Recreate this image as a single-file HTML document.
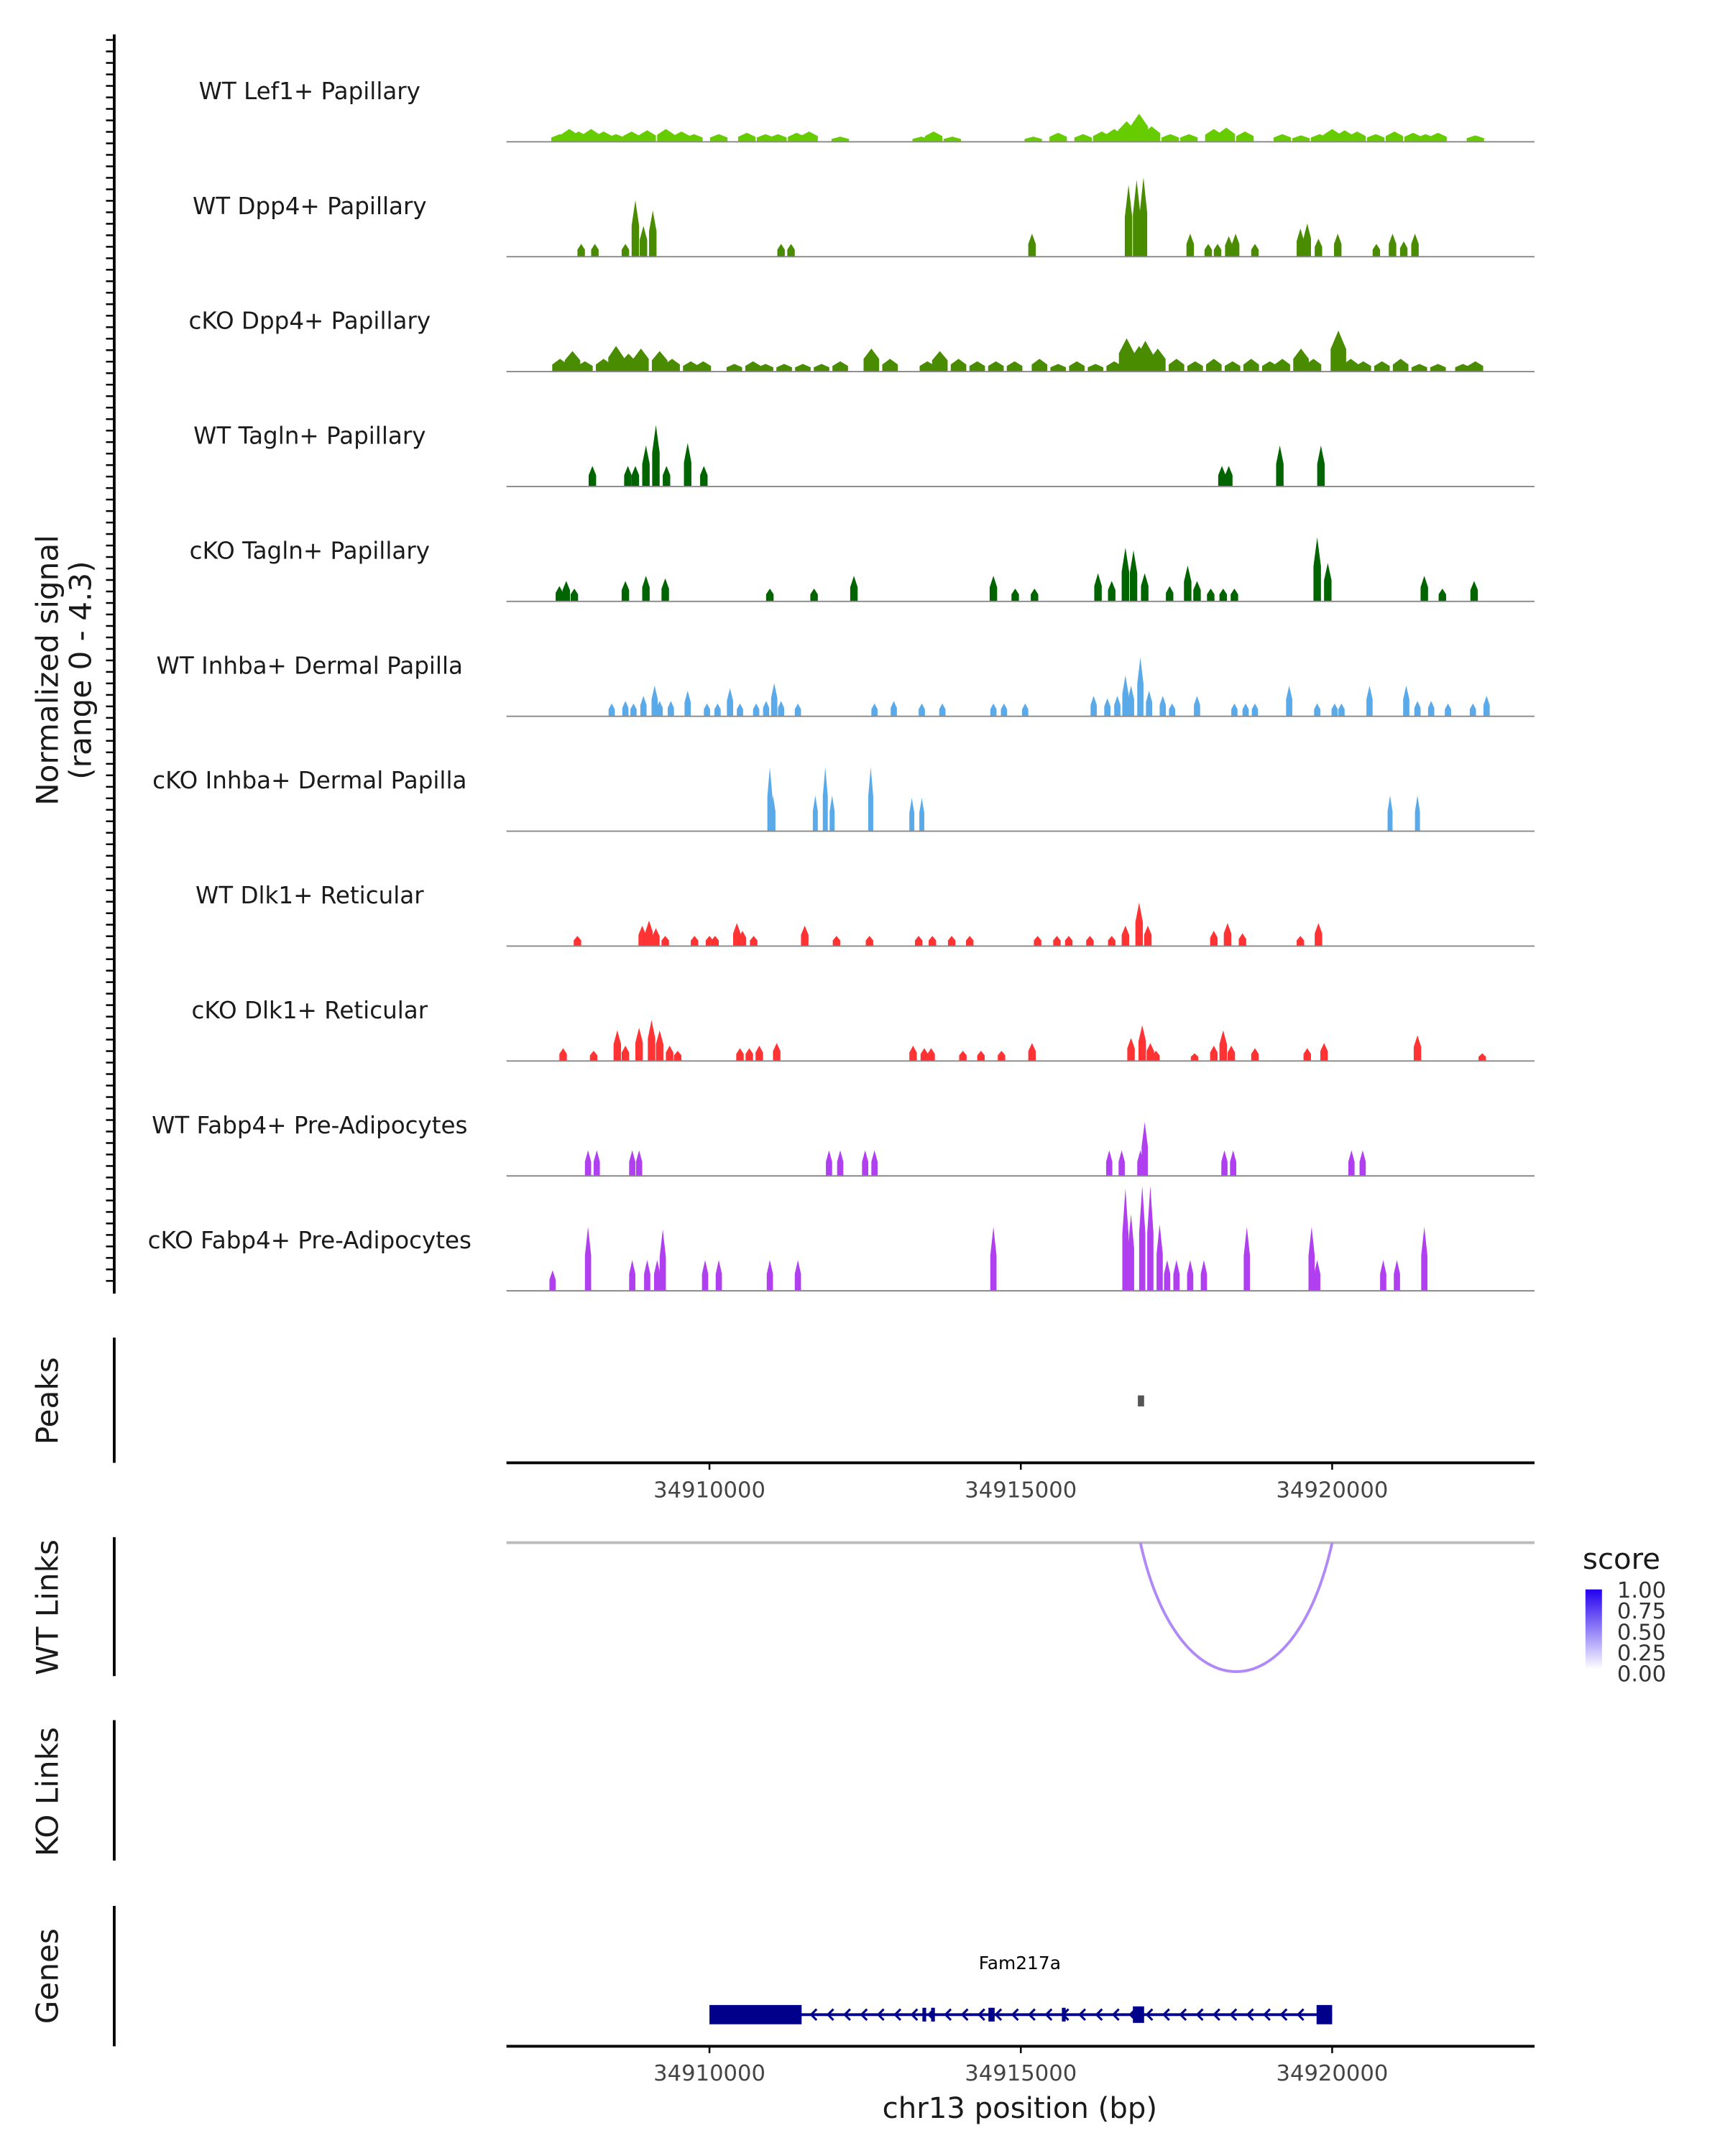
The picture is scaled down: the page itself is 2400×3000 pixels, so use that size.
<!DOCTYPE html>
<html><head><meta charset="utf-8"><style>
html,body{margin:0;padding:0;background:#fff}
svg{display:block}
text{font-family:"DejaVu Sans","Liberation Sans",sans-serif}
</style></head><body>
<svg id="chart" width="2400" height="3000" viewBox="0 0 1253.4 1566.7" xmlns="http://www.w3.org/2000/svg">
<defs>
<linearGradient id="scoreGrad" x1="0" y1="1" x2="0" y2="0">
<stop offset="0" stop-color="#ffffff"/><stop offset="1" stop-color="#2200ee"/>
</linearGradient>
</defs>
<g id="tracks"></g>
<g id="axes"></g>
</svg>
<script>
// ---- data (positions in kb relative to chr13:34,900,000) ----
const trackNames = ["WT Lef1+ Papillary","WT Dpp4+ Papillary","cKO Dpp4+ Papillary","WT Tagln+ Papillary","cKO Tagln+ Papillary","WT Inhba+ Dermal Papilla","cKO Inhba+ Dermal Papilla","WT Dlk1+ Reticular","cKO Dlk1+ Reticular","WT Fabp4+ Pre-Adipocytes","cKO Fabp4+ Pre-Adipocytes"];
const trackColors = ["#66cc00","#4a8c00","#4a8c00","#006400","#006400","#5aaaea","#5aaaea","#ff3333","#ff3333","#b03ff0","#b03ff0"];
const peakWidths = [0.28,0.12,0.25,0.12,0.12,0.1,0.08,0.12,0.12,0.1,0.1];
const t0Pos=[7.6,7.75,7.9,8.1,8.3,8.5,8.75,9.0,9.3,9.55,9.75,10.15,10.6,10.9,11.1,11.4,11.6,12.1,13.4,13.6,13.9,15.2,15.6,16.0,16.3,16.5,16.7,16.9,17.1,17.4,17.7,18.1,18.3,18.6,19.2,19.5,19.8,20.0,20.2,20.4,20.7,21.0,21.3,21.5,21.7,22.3];
const t0Val=[0.3,0.5,0.4,0.5,0.4,0.3,0.4,0.45,0.5,0.4,0.3,0.3,0.35,0.3,0.3,0.35,0.4,0.2,0.2,0.4,0.2,0.2,0.35,0.3,0.4,0.5,0.8,1.1,0.6,0.3,0.3,0.5,0.55,0.4,0.3,0.25,0.3,0.5,0.45,0.4,0.3,0.4,0.35,0.3,0.35,0.25];
const t1Pos=[7.94,8.16,8.65,8.81,8.94,9.09,11.15,11.31,15.18,16.73,16.86,16.97,17.72,18.01,18.16,18.34,18.45,18.76,19.49,19.6,19.78,20.09,20.71,20.97,21.15,21.33];
const t1Val=[0.5,0.5,0.5,2.2,1.2,1.8,0.5,0.5,0.9,2.8,3.0,3.1,0.9,0.5,0.5,0.8,0.9,0.5,1.1,1.3,0.7,0.9,0.5,0.9,0.6,0.9];
const t2Pos=[7.6,7.8,8.0,8.3,8.5,8.7,8.9,9.2,9.4,9.7,9.9,10.4,10.7,10.9,11.2,11.5,11.8,12.1,12.6,12.9,13.5,13.7,14.0,14.3,14.6,14.9,15.3,15.6,15.9,16.2,16.5,16.7,16.9,17.0,17.2,17.5,17.8,18.1,18.4,18.7,19.0,19.2,19.5,19.7,20.1,20.3,20.5,20.8,21.1,21.4,21.7,22.1,22.3];
const t2Val=[0.5,0.8,0.4,0.5,1.0,0.7,0.9,0.8,0.5,0.4,0.4,0.3,0.4,0.3,0.3,0.3,0.3,0.4,0.9,0.5,0.4,0.8,0.5,0.4,0.4,0.4,0.5,0.3,0.4,0.3,0.4,1.3,1.0,1.2,0.9,0.5,0.4,0.5,0.4,0.5,0.4,0.5,0.9,0.5,1.6,0.5,0.4,0.4,0.5,0.3,0.3,0.3,0.4];
const t3Pos=[8.12,8.69,8.81,8.98,9.14,9.31,9.65,9.91,18.23,18.34,19.16,19.82];
const t3Val=[0.8,0.8,0.8,1.6,2.4,0.8,1.7,0.8,0.8,0.8,1.6,1.6];
const t4Pos=[7.59,7.7,7.83,8.65,8.98,9.29,10.97,11.68,12.32,14.56,14.91,15.22,16.24,16.46,16.68,16.81,16.99,17.39,17.68,17.83,18.05,18.25,18.43,19.76,19.93,21.48,21.77,22.28];
const t4Val=[0.6,0.8,0.5,0.8,1.0,0.9,0.5,0.5,1.0,1.0,0.5,0.5,1.1,0.8,2.1,2.0,1.1,0.6,1.4,0.8,0.5,0.5,0.5,2.5,1.5,1.0,0.5,0.8];
const t5Pos=[8.43,8.65,8.78,8.94,9.12,9.2,9.38,9.65,9.96,10.13,10.33,10.49,10.75,10.91,11.04,11.15,11.42,12.65,12.96,13.41,13.74,14.56,14.73,15.07,16.17,16.39,16.55,16.68,16.77,16.92,17.06,17.28,17.43,17.83,18.43,18.61,18.76,19.31,19.76,20.04,20.15,20.6,21.19,21.37,21.59,21.86,22.26,22.48];
const t5Val=[0.5,0.6,0.5,0.8,1.2,0.6,0.6,1.0,0.5,0.5,1.1,0.5,0.5,0.6,1.3,0.6,0.5,0.5,0.6,0.5,0.5,0.5,0.5,0.5,0.8,0.7,0.8,1.6,1.2,2.3,1.0,0.8,0.5,0.8,0.5,0.5,0.5,1.2,0.5,0.5,0.5,1.2,1.2,0.6,0.6,0.5,0.5,0.8];
const t6Pos=[10.97,11.02,11.7,11.86,11.97,12.59,13.25,13.41,20.93,21.37];
const t6Val=[2.5,1.4,1.4,2.5,1.4,2.5,1.3,1.3,1.4,1.4];
const t7Pos=[7.88,8.92,9.03,9.14,9.29,9.76,10.0,10.09,10.44,10.53,10.71,11.53,12.04,12.57,13.36,13.58,13.89,14.18,15.27,15.58,15.77,16.11,16.46,16.68,16.9,17.04,18.1,18.32,18.56,19.49,19.78];
const t7Val=[0.4,0.8,1.0,0.7,0.4,0.4,0.4,0.4,0.9,0.6,0.4,0.8,0.4,0.4,0.4,0.4,0.4,0.4,0.4,0.4,0.4,0.4,0.4,0.8,1.7,0.8,0.6,0.9,0.5,0.4,0.9];
const t8Pos=[7.65,8.14,8.52,8.65,8.87,9.07,9.2,9.36,9.49,10.49,10.64,10.8,11.08,13.27,13.45,13.56,14.07,14.36,14.69,15.18,16.77,16.95,17.08,17.17,17.79,18.1,18.25,18.38,18.76,19.6,19.87,21.37,22.41];
const t8Val=[0.5,0.4,1.2,0.6,1.3,1.6,1.2,0.6,0.4,0.5,0.5,0.6,0.7,0.6,0.5,0.5,0.4,0.4,0.4,0.7,0.9,1.4,0.7,0.4,0.3,0.6,1.2,0.6,0.5,0.5,0.7,1.0,0.3];
const t9Pos=[8.05,8.19,8.76,8.87,11.92,12.1,12.5,12.65,16.42,16.62,16.92,16.99,18.27,18.41,20.31,20.49];
const t9Val=[1.0,1.0,1.0,1.0,1.0,1.0,1.0,1.0,1.0,1.0,1.0,2.1,1.0,1.0,1.0,1.0];
const t10Pos=[7.48,8.05,8.76,9.0,9.16,9.25,9.93,10.15,10.97,11.42,14.56,16.68,16.77,16.95,17.08,17.23,17.35,17.5,17.72,17.94,18.63,19.67,19.76,20.82,21.04,21.48];
const t10Val=[0.8,2.5,1.2,1.2,1.2,2.4,1.2,1.2,1.2,1.2,2.5,4.0,3.0,4.1,4.1,2.6,1.2,1.2,1.2,1.2,2.5,2.5,1.2,1.2,1.2,2.5];
const trackPos=[t0Pos,t1Pos,t2Pos,t3Pos,t4Pos,t5Pos,t6Pos,t7Pos,t8Pos,t9Pos,t10Pos];
const trackVal=[t0Val,t1Val,t2Val,t3Val,t4Val,t5Val,t6Val,t7Val,t8Val,t9Val,t10Val];
const xTicks=[10,15,20];
const xTickLabels=["34910000","34915000","34920000"];
const peakRegions=[[16.88,16.98]];
const linkStart=[16.92];
const linkEnd=[20.0];
const linkScore=[0.45];
const legendLabels=["1.00","0.75","0.50","0.25","0.00"];
const exonStart=[10.0,13.42,13.56,14.48,15.66,16.8,19.75];
const exonEnd=[11.48,13.48,13.62,14.58,15.72,16.98,20.0];
const exonH=[14,10,10,10,10,12,14];
const geneStart=10.0, geneEnd=20.0;
const yMax=4.3;

// ---- scales ----
const X0=368,X1=1115,D0=6.74,D1=23.25;
const xs=v=>X0+(v-D0)/(D1-D0)*(X1-X0);
const base0=103,step=83.5,trackPx=80;
const ys=v=>v/yMax*trackPx;
const NS="http://www.w3.org/2000/svg";
function mk(tag,attrs,parent,txt){const e=document.createElementNS(NS,tag);for(const k in attrs)e.setAttribute(k,attrs[k]);if(txt!==undefined)e.textContent=txt;parent.appendChild(e);return e;}
const T=document.getElementById('tracks'),A=document.getElementById('axes');

trackNames.forEach((name,i)=>{
  const b=base0+i*step;
  const g=mk('g',{},T);
  
  
  const lab=mk('text',{x:225,y:b-31,'text-anchor':'middle','font-size':17,fill:'#1a1a1a'},g,name);
  
  
  const w=peakWidths[i];
  trackPos[i].forEach((p,j)=>{
    const h=ys(trackVal[i][j]);const l=xs(p-w/2),r=xs(p+w/2),c=xs(p);
    const pk=mk('polygon',{points:`${l},${b} ${l},${b-h*0.55} ${c},${b-h} ${r},${b-h*0.55} ${r},${b}`,fill:trackColors[i]},g);
    
    
  });
  const bl=mk('line',{x1:X0,x2:X1,y1:b,y2:b,stroke:'#888','stroke-width':1},g);
  
  
});

// left axes
function vaxis(y1,y2,name){const l=mk('line',{x1:83,x2:83,y1:y1,y2:y2,stroke:'#000','stroke-width':2},A);}
vaxis(25,940,'signal-y-axis');
for(let y=29;y<=938;y+=8.35){const t=mk('line',{x1:77,x2:83,y1:y,y2:y,stroke:'#000','stroke-width':1.3},A);}
function ytitle(x,y,lines,name){const t=mk('text',{transform:`translate(${x},${y}) rotate(-90)`,'text-anchor':'middle','font-size':22,fill:'#1a1a1a'},A);lines.forEach((s,k)=>mk('tspan',{x:0,dy:k?24:0},t,s));}
ytitle(42,487,["Normalized signal","(range 0 - 4.3)"],'signal-y-title');
vaxis(972,1063,'peaks-y-axis');ytitle(42,1018,["Peaks"],'peaks-y-title');
vaxis(1117,1218,'wt-links-y-axis');ytitle(42,1168,["WT Links"],'wt-links-y-title');
vaxis(1250,1352,'ko-links-y-axis');ytitle(42,1302,["KO Links"],'ko-links-y-title');
vaxis(1385,1487,'genes-y-axis');ytitle(42,1436,["Genes"],'genes-y-title');

// peaks
peakRegions.forEach(r=>{const p=mk('rect',{x:xs(r[0]),y:1014,width:Math.max(4,xs(r[1])-xs(r[0])),height:8,fill:'#555'},A);});
function xaxis(y,name){const l=mk('line',{x1:X0,x2:X1,y1:y,y2:y,stroke:'#000','stroke-width':2},A);
 xTicks.forEach((v,k)=>{const t=mk('line',{x1:xs(v),x2:xs(v),y1:y,y2:y+5,stroke:'#000','stroke-width':1.3},A);
 const tl=mk('text',{x:xs(v),y:y+25,'text-anchor':'middle','font-size':16,fill:'#444'},A,xTickLabels[k]);});}
xaxis(1063,'peaks-x-axis');

// links
const ll=mk('line',{x1:X0,x2:X1,y1:1121,y2:1121,stroke:'#bbb','stroke-width':2},A);
linkStart.forEach((s,k)=>{const a=xs(s),b=xs(linkEnd[k]);const p=mk('path',{d:`M${a},1121 C${a+(b-a)*0.2},1246 ${b-(b-a)*0.2},1246 ${b},1121`,fill:'none',stroke:'#b088f8','stroke-width':2},A);});
// legend
const lt=mk('text',{x:1150,y:1140,'font-size':21,fill:'#1a1a1a'},A,'score');
const lr=mk('rect',{x:1152,y:1155,width:12,height:58,fill:'url(#scoreGrad)'},A);
legendLabels.forEach((s,k)=>{const t=mk('text',{x:1175,y:1161+k*15.2,'font-size':16,fill:'#333'},A,s);});

// genes
const gl=mk('text',{x:741,y:1431,'text-anchor':'middle','font-size':13,fill:'#000'},A,'Fam217a');
const gline=mk('line',{x1:xs(geneStart),x2:xs(geneEnd),y1:1464,y2:1464,stroke:'#00008b','stroke-width':2},A);
for(let x=xs(11.5)+6;x<xs(19.7);x+=12.2){const a=mk('path',{d:`M${x+4},1460 L${x},1464 L${x+4},1468`,fill:'none',stroke:'#00008b','stroke-width':1.6},A);}
exonStart.forEach((s,k)=>{const h=exonH[k];const r=mk('rect',{x:xs(s),y:1464-h/2,width:xs(exonEnd[k])-xs(s),height:h,fill:'#00008b'},A);});
xaxis(1487,'genes-x-axis');
const xt=mk('text',{x:741,y:1539,'text-anchor':'middle','font-size':21,fill:'#1a1a1a'},A,'chr13 position (bp)');
</script>
</body></html>
